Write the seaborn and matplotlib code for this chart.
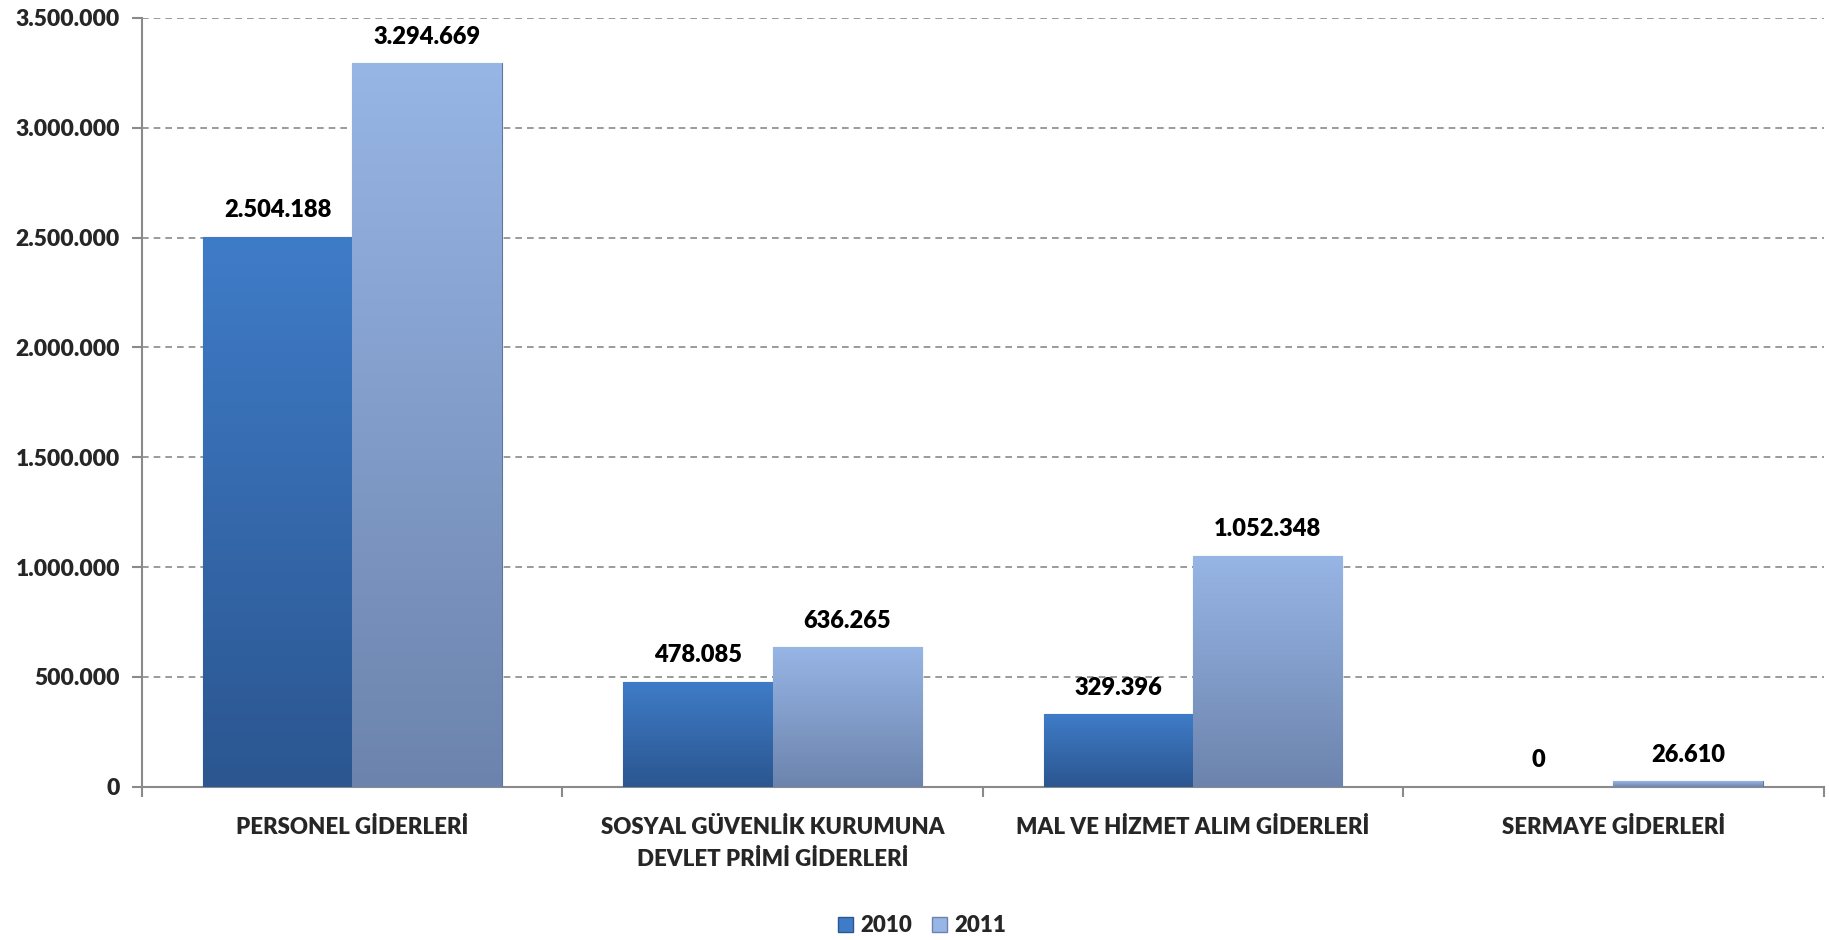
import numpy as np
import pandas as pd
import matplotlib
matplotlib.use('Agg')
import matplotlib.pyplot as plt
import seaborn as sns
from matplotlib.colors import LinearSegmentedColormap
from matplotlib.patches import Patch

# Veriler
kategoriler = ['PERSONEL GİDERLERİ',
               'SOSYAL GÜVENLİK KURUMUNA\nDEVLET PRİMİ GİDERLERİ',
               'MAL VE HİZMET ALIM GİDERLERİ',
               'SERMAYE GİDERLERİ']
yil_2010 = [2504188, 478085, 329396, 0]
yil_2011 = [3294669, 636265, 1052348, 26610]
yillar = ['2010', '2011']
yticks = [0, 500000, 1000000, 1500000, 2000000, 2500000, 3000000, 3500000]

renkler = {'2010': ('#3f7cc8', '#2b5690'), '2011': ('#97b5e5', '#6c84ad')}

df = pd.DataFrame({
    'kategori': kategoriler * 2,
    'yil': ['2010'] * 4 + ['2011'] * 4,
    'deger': yil_2010 + yil_2011,
})


def nokta(v):
    return f"{v:,}".replace(',', '.')


sns.set_style('white')
plt.rcParams['font.family'] = ['Lato', 'DejaVu Sans']
W = 'heavy'

fig, ax = plt.subplots(figsize=(18.29, 9.40), dpi=100)
fig.subplots_adjust(left=0.0777, right=0.997, top=0.981, bottom=0.163)

sns.barplot(data=df, x='kategori', y='deger', hue='yil', order=kategoriler,
            hue_order=yillar, width=0.71, palette=[renkler[y][0] for y in yillar],
            ax=ax, legend=False, zorder=3)

# gradient dolgu
for cont, yil in zip(ax.containers, yillar):
    cmap = LinearSegmentedColormap.from_list(yil, [renkler[yil][1], renkler[yil][0]])
    grad = np.linspace(0, 1, 256).reshape(-1, 1)
    for bar, val in zip(cont.patches, df[df.yil == yil].deger):
        x, w, h = bar.get_x(), bar.get_width(), bar.get_height()
        if h > 0:
            im = ax.imshow(grad, cmap=cmap, extent=[x, x + w, 0, h], origin='lower',
                           aspect='auto', zorder=3)
            im.set_clip_path(bar)
            bar.set_edgecolor('#2a4d7a' if yil == '2010' else '#5f769c')
            bar.set_linewidth(0.8)
        else:
            bar.set_visible(False)
        ax.text(x + w / 2, h + 70000, nokta(val), ha='center', va='bottom',
                fontsize=17, fontweight=W, color='black')

ax.set_xlim(-0.5, 3.5)
ax.set_ylim(0, 3500000)
ax.set_yticks(yticks)
ax.set_yticklabels([nokta(v) for v in yticks], fontsize=16.5, fontweight=W)
ax.yaxis.grid(True, linestyle=(0, (4, 3)), color='#8a8a8a', linewidth=1.2)
ax.set_axisbelow(True)

ax.set_xticks([-0.5, 0.5, 1.5, 2.5, 3.5])
ax.set_xticklabels([])
ax.set_xticks(range(4), minor=True)
ax.set_xticklabels(kategoriler, minor=True, fontsize=16, fontweight=W,
                   linespacing=1.6)
ax.tick_params(axis='x', which='minor', length=0, pad=22)
ax.tick_params(axis='x', which='major', length=7, color='#8a8a8a', width=1.5,
               direction='out', bottom=True)
ax.tick_params(axis='y', length=7, color='#8a8a8a', width=1.5, direction='out',
               left=True, pad=9)
ax.set_xlabel('')
ax.set_ylabel('')

for s in ['top', 'right']:
    ax.spines[s].set_visible(False)
for s in ['left', 'bottom']:
    ax.spines[s].set_color('#8a8a8a')
    ax.spines[s].set_linewidth(1.5)

handles = [Patch(facecolor=renkler[y][0], edgecolor=renkler[y][1]) for y in yillar]
fig.legend(handles, yillar, loc='center', bbox_to_anchor=(0.504, 0.015),
           ncol=2, frameon=False, handlelength=0.7, handleheight=0.7,
           handletextpad=0.3, columnspacing=0.9, prop={'weight': W, 'size': 16})

plt.savefig('out.png', dpi=100)
